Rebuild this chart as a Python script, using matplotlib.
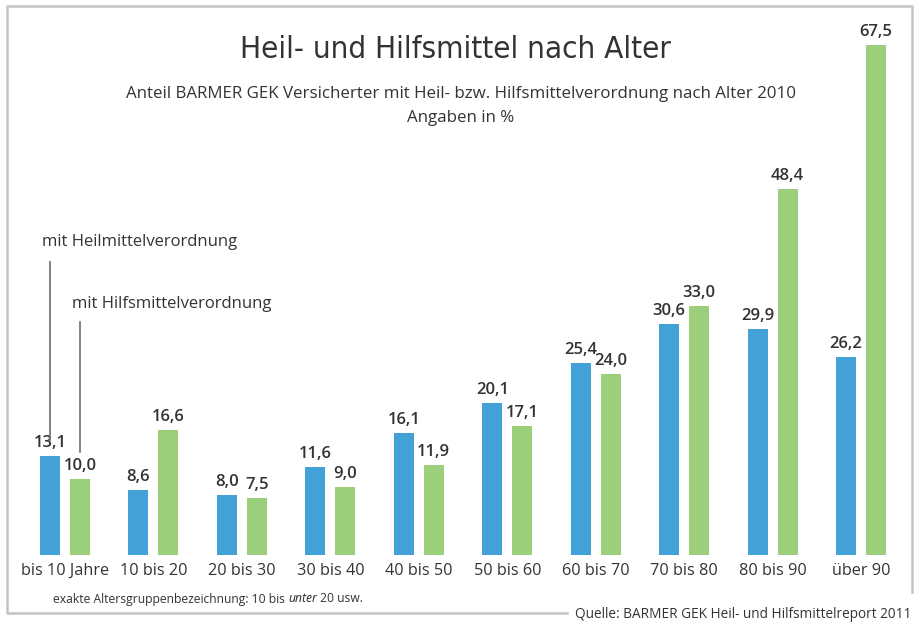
import matplotlib.pyplot as plt
from matplotlib.lines import Line2D

# Data
groups = ["bis 10 Jahre", "10 bis 20", "20 bis 30", "30 bis 40", "40 bis 50",
          "50 bis 60", "60 bis 70", "70 bis 80", "80 bis 90", "über 90"]
heilmittel = [13.1, 8.6, 8.0, 11.6, 16.1, 20.1, 25.4, 30.6, 29.9, 26.2]
hilfsmittel = [10.0, 16.6, 7.5, 9.0, 11.9, 17.1, 24.0, 33.0, 48.4, 67.5]

BLUE = "#42a1d7"
GREEN = "#9bcf7b"
TEXT = "#333333"
LINE = "#6f7c86"
FRAME = "#c3c3c3"

plt.rcParams['font.family'] = ['Open Sans', 'DejaVu Sans']

W, H = 915, 623
fig = plt.figure(figsize=(W / 100, H / 100), dpi=100)

# axes over the whole figure, data units: 1 group = 88.45 px, 1 % = 7.56 px
ax = fig.add_axes([0, 0, 1, 1])
gx = 88.45
x0 = 65
py = 7.56
base = 68  # baseline in px from bottom
ax.set_xlim(-x0 / gx, (W - x0) / gx)
ax.set_ylim(-base / py, (H - base) / py)
ax.axis('off')

off = 15 / gx
bw = 20 / gx
xs = list(range(len(groups)))
ax.bar([x - off for x in xs], heilmittel, width=bw, color=BLUE)
ax.bar([x + off for x in xs], hilfsmittel, width=bw, color=GREEN)

for x, v in zip(xs, heilmittel):
    ax.text(x - off, v + 5 / py, f"{v:.1f}".replace(".", ","), ha='center', va='bottom',
            fontsize=12, color=TEXT, fontweight='semibold')
for x, v in zip(xs, hilfsmittel):
    ax.text(x + off, v + 5 / py, f"{v:.1f}".replace(".", ","), ha='center', va='bottom',
            fontsize=12, color=TEXT, fontweight='semibold')

# group labels below the bars
for x, g in zip(xs, groups):
    ax.text(x, -16 / py, g, ha='center', va='center', fontsize=11.7, color=TEXT)

# titles (figure pixel coords -> fractions)
def fx(px):
    return px / W

def fy(py_):
    return 1 - py_ / H

fig.text(fx(455), fy(50), "Heil- und Hilfsmittel nach Alter", ha='center', va='center',
         fontsize=22.5, color=TEXT, family='DejaVu Sans', fontstretch='condensed')
fig.text(fx(461), fy(94), "Anteil BARMER GEK Versicherter mit Heil- bzw. Hilfsmittelverordnung nach Alter 2010",
         ha='center', va='center', fontsize=12.2, color=TEXT)
fig.text(fx(461), fy(118), "Angaben in %", ha='center', va='center', fontsize=12.2, color=TEXT)

# legend-like annotations
fig.text(fx(42), fy(242), "mit Heilmittelverordnung", ha='left', va='center', fontsize=12, color=TEXT)
fig.text(fx(72), fy(304), "mit Hilfsmittelverordnung", ha='left', va='center', fontsize=12, color=TEXT)
fig.add_artist(Line2D([fx(50), fx(50)], [fy(262), fy(440)], color=LINE, lw=1.3))
fig.add_artist(Line2D([fx(80), fx(80)], [fy(322), fy(452)], color=LINE, lw=1.3))

# footnote with italic word
fig.canvas.draw()
r = fig.canvas.get_renderer()
t1 = fig.text(fx(53), fy(599), "exakte Altersgruppenbezeichnung: 10 bis ", ha='left', va='center',
              fontsize=8.7, color=TEXT)
e1 = t1.get_window_extent(r)
t2 = fig.text(e1.x1 / W, fy(599), "unter", ha='left', va='center', fontsize=8.7,
              color=TEXT, style='italic', family='Noto Sans')
e2 = t2.get_window_extent(r)
fig.text(e2.x1 / W, fy(599), " 20 usw.", ha='left', va='center', fontsize=8.7, color=TEXT)

fig.text(fx(911), fy(614), "Quelle: BARMER GEK Heil- und Hilfsmittelreport 2011", ha='right', va='center',
         fontsize=9.8, color=TEXT)

# frame, open at bottom right
fig.add_artist(Line2D([fx(567), fx(7), fx(7), fx(912), fx(912)],
                      [fy(613), fy(613), fy(6), fy(6), fy(592)], color=FRAME, lw=1.8))

fig.savefig("out.png", dpi=100)
